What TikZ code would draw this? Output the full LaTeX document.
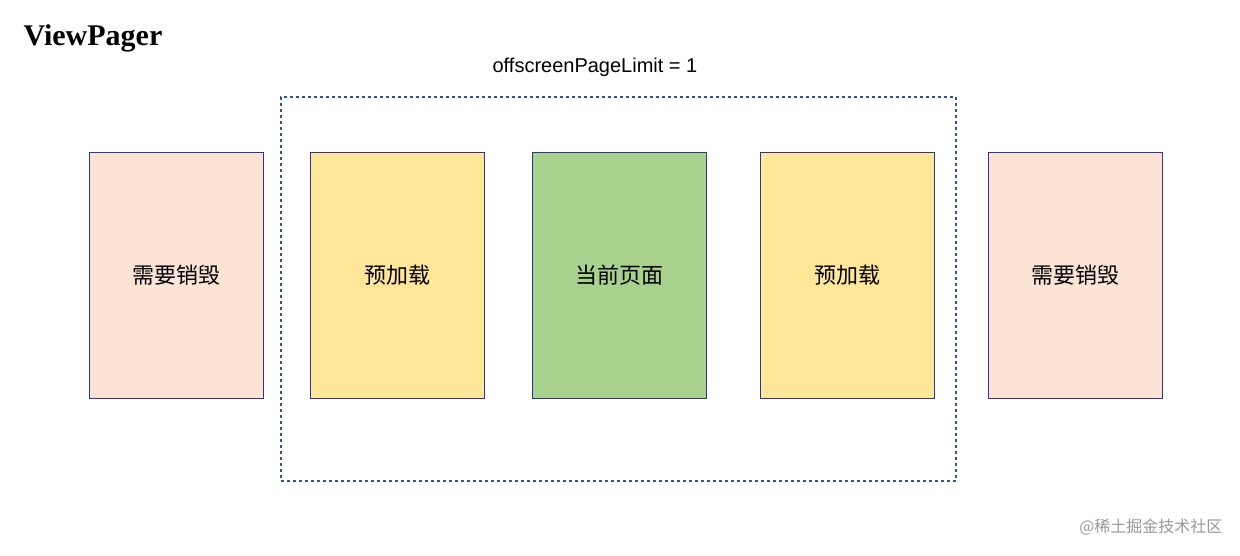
\documentclass[tikz,border=0pt]{standalone}
\usepackage{fontspec}
\setmainfont{Liberation Serif}
\newfontfamily\cjk{Noto Sans CJK SC}
\newfontfamily\lsans{Liberation Sans}
\begin{document}
\begin{tikzpicture}[x=1pt,y=-1pt,
  page/.style={draw=blue!45!black!80, line width=1pt, minimum width=174pt, minimum height=246pt, inner sep=0, font=\cjk\fontsize{22}{26}\selectfont},
  destroy/.style={page, fill={rgb,255:red,251;green,227;blue,214}},
  preload/.style={page, fill={rgb,255:red,255;green,230;blue,153}},
  current/.style={page, fill={rgb,255:red,169;green,209;blue,142}}]
\useasboundingbox (0,0) rectangle (1240,555);
\node[anchor=west, font=\bfseries\fontsize{30}{34}\selectfont] (title) at (20,38) {ViewPager};
\node[font=\lsans\fontsize{20}{24}\selectfont] (limit) at (595,67) {offscreenPageLimit = 1};
\node[draw={rgb,255:red,47;green,85;blue,151}, dashed, line width=1.2pt, minimum width=675pt, minimum height=384pt, inner sep=0] (win) at (618.5,289) {};
\node[destroy] (d1) at (176,275) {需要销毁};
\node[preload] (p1) at (397,275) {预加载};
\node[current] (c) at (619,275) {当前页面};
\node[preload] (p2) at (847,275) {预加载};
\node[destroy] (d2) at (1075,275) {需要销毁};
\node[anchor=east, text=gray!80, font=\cjk\fontsize{16}{18}\selectfont] (wm) at (1226,527) {@稀土掘金技术社区};
\end{tikzpicture}
\end{document}
